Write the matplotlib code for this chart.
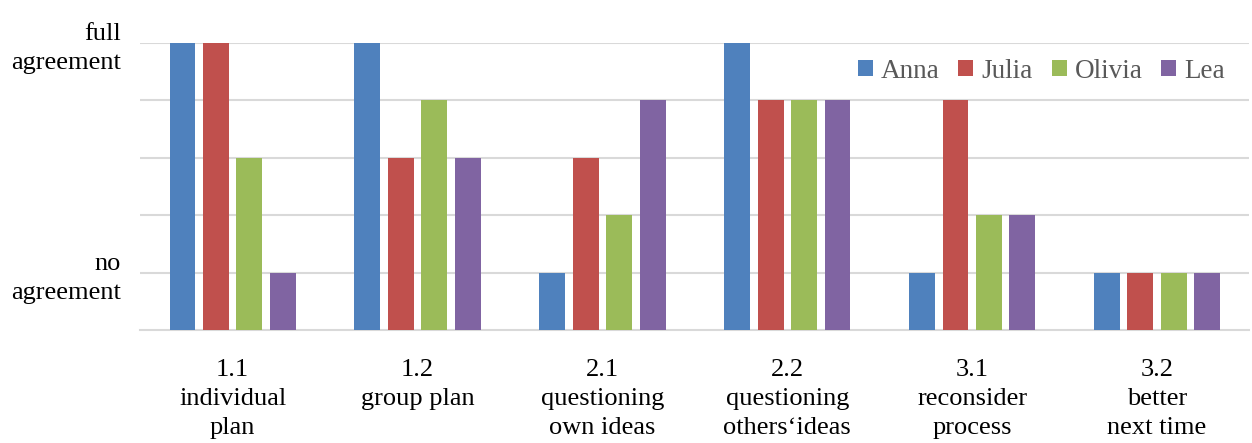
import numpy as np
import matplotlib
matplotlib.use("Agg")
import matplotlib.pyplot as plt

plt.rcParams["font.family"] = ["Liberation Serif", "DejaVu Serif"]

categories = ["1.1\nindividual\nplan", "1.2\ngroup plan", "2.1\nquestioning\nown ideas",
              "2.2\nquestioning\nothers\u2018ideas", "3.1\nreconsider\nprocess", "3.2\nbetter\nnext time"]
names = ["Anna", "Julia", "Olivia", "Lea"]
anna = [5, 5, 1, 5, 1, 1]
julia = [5, 3, 3, 4, 4, 1]
olivia = [3, 4, 2, 4, 2, 1]
lea = [1, 3, 4, 4, 2, 1]
colors = ["#4f81bd", "#c0504d", "#9bbb59", "#8064a2"]

fig = plt.figure(figsize=(12.52, 4.43), dpi=100)
ax = fig.add_axes([0.112, 0.255, 0.886, 0.648])
x = np.arange(len(categories))
w, step = 0.14, 0.181
for i, (vals, nm, c) in enumerate(zip([anna, julia, olivia, lea], names, colors)):
    ax.bar(x + (i - 1.5) * step, vals, w, color=c, label=nm, zorder=3)

ax.set_xlim(-0.5, len(categories) - 0.5)
ax.set_ylim(0, 5)
ax.set_yticks([1, 2, 3, 4, 5])
ax.set_yticklabels(["no\nagreement", "", "", "", "full\nagreement"], fontsize=19, linespacing=1.4)
ax.get_yticklabels()[4].set_y(5.12)
ax.set_xticks(x)
ax.set_xticklabels(categories, fontsize=19, linespacing=1.4)
ax.tick_params(axis="x", length=0, pad=21)
ax.tick_params(axis="y", length=0, pad=14)
ax.grid(axis="y", color="#d9d9d9", lw=1.5, zorder=0)
for s in ["top", "right", "left"]:
    ax.spines[s].set_visible(False)
ax.spines["bottom"].set_color("#d9d9d9")
ax.spines["bottom"].set_linewidth(1.5)

leg = ax.legend(loc="upper right", bbox_to_anchor=(1.0, 1.03), ncol=4, frameon=False,
                fontsize=19.5, handlelength=0.55, handleheight=0.55, handletextpad=0.3,
                columnspacing=0.7)
for t in leg.get_texts():
    t.set_color("#595959")

fig.savefig("out.png", dpi=100)
